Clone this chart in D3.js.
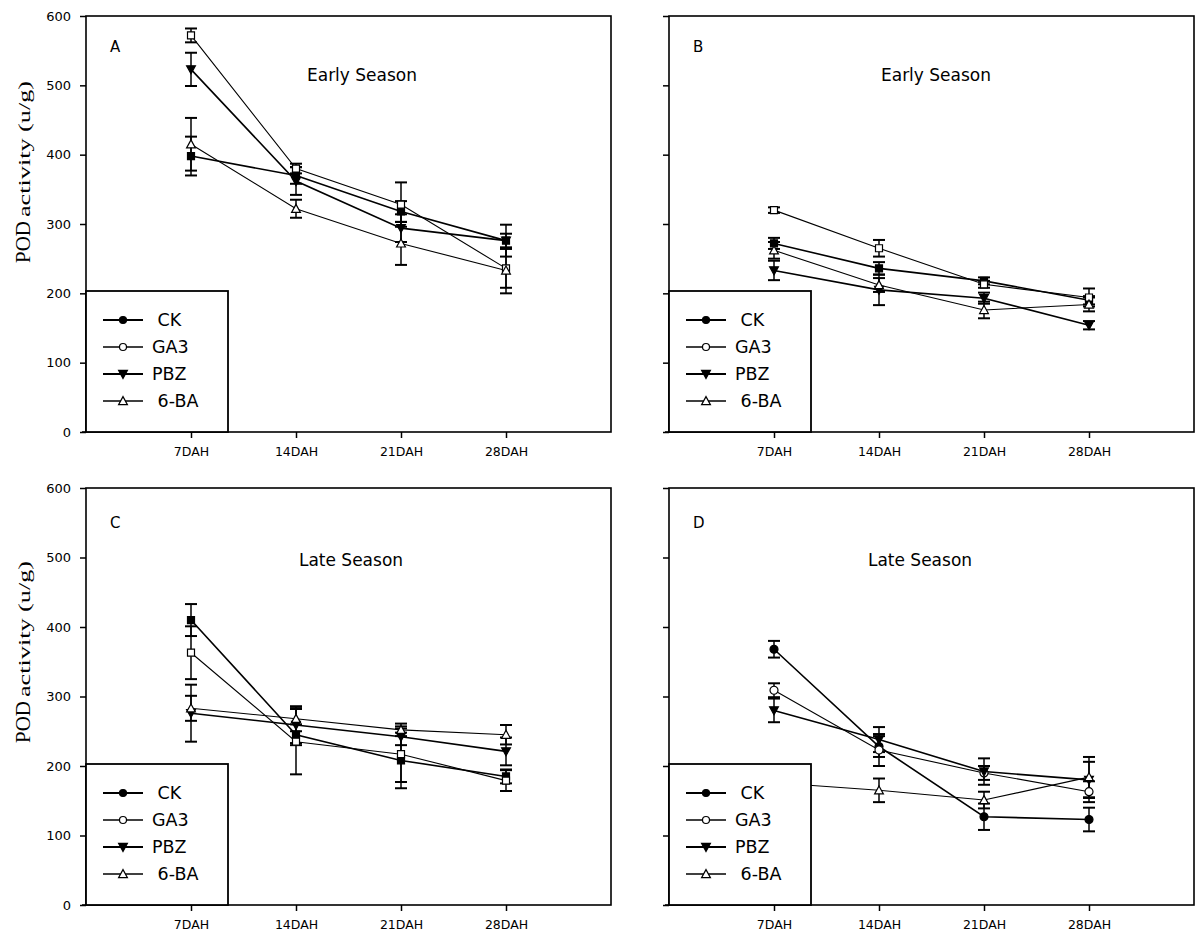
<!DOCTYPE html>
<html>
<head>
<meta charset="utf-8">
<script src="https://cdn.jsdelivr.net/npm/d3@7"></script>
<style>
  html, body { margin: 0; padding: 0; background: #fff; }
  svg { display: block; }
  text { font-family: "DejaVu Sans", sans-serif; fill: #000; white-space: pre; }
</style>
</head>
<body>
<script>
// ---------------- DATA ----------------
const days = [7, 14, 21, 28];
const dayLabels = ["7DAH", "14DAH", "21DAH", "28DAH"];
const seriesNames = ["CK", "GA3", "PBZ", "6-BA"];
const legendLabels = [" CK", "GA3", "PBZ", " 6-BA"];
const yTickValues = [0, 100, 200, 300, 400, 500, 600];
const panelLetters = ["A", "B", "C", "D"];
const panelTitles = ["Early Season", "Early Season", "Late Season", "Late Season"];
const yAxisTitleMain = "POD";
const yAxisTitleRest = "activity (u/g)";

// Panel A
const A_CK = [398, 370, 318, 276];   const A_CK_err = [28, 12, 15, 10];
const A_GA3 = [572, 380, 328, 236];  const A_GA3_err = [10, 7, 32, 28];
const A_PBZ = [523, 362, 294, 276];  const A_PBZ_err = [24, 20, 20, 23];
const A_BA = [415, 322, 272, 233];   const A_BA_err = [38, 13, 31, 33];
// Panel B
const B_CK = [272, 236, 218, 190];   const B_CK_err = [8, 9, 5, 6];
const B_GA3 = [320, 265, 213, 194];  const B_GA3_err = [4, 12, 5, 13];
const B_PBZ = [233, 205, 193, 154];  const B_PBZ_err = [14, 22, 8, 6];
const B_BA = [262, 212, 176, 184];   const B_BA_err = [12, 10, 12, 10];
// Panel C
const C_CK = [410, 245, 208, 185];   const C_CK_err = [23, 15, 40, 10];
const C_GA3 = [363, 235, 217, 179];  const C_GA3_err = [38, 47, 40, 15];
const C_PBZ = [276, 259, 242, 221];  const C_PBZ_err = [41, 26, 12, 20];
const C_BA = [283, 268, 252, 245];   const C_BA_err = [18, 18, 9, 14];
// Panel D
const D_CK = [368, 228, 127, 123];   const D_CK_err = [12, 15, 19, 17];
const D_GA3 = [309, 223, 190, 163];  const D_GA3_err = [10, 23, 10, 15];
const D_PBZ = [280, 238, 192, 180];  const D_PBZ_err = [17, 18, 19, 26];
const D_BA = [176, 165, 151, 184];   const D_BA_err = [10, 17, 12, 29];

const panelValues = [
  [A_CK, A_GA3, A_PBZ, A_BA],
  [B_CK, B_GA3, B_PBZ, B_BA],
  [C_CK, C_GA3, C_PBZ, C_BA],
  [D_CK, D_GA3, D_PBZ, D_BA]
];
const panelErrors = [
  [A_CK_err, A_GA3_err, A_PBZ_err, A_BA_err],
  [B_CK_err, B_GA3_err, B_PBZ_err, B_BA_err],
  [C_CK_err, C_GA3_err, C_PBZ_err, C_BA_err],
  [D_CK_err, D_GA3_err, D_PBZ_err, D_BA_err]
];

// ---------------- LAYOUT ----------------
const W = 1200, H = 941;
const panelW = 525;
const layout = [
  { left: 86,  top: 16,  bottom: 432, showY: true,  squares: true,  letterDy: 36, titleDy: 65, titleCx: 276, yTitleEnd: 263 },
  { left: 669, top: 16,  bottom: 432, showY: false, squares: true,  letterDy: 36, titleDy: 65, titleCx: 267 },
  { left: 86,  top: 488, bottom: 905, showY: true,  squares: true,  letterDy: 40, titleDy: 78, titleCx: 265, yTitleEnd: 743 },
  { left: 669, top: 488, bottom: 905, showY: false, squares: false, letterDy: 40, titleDy: 78, titleCx: 251 }
];
const seriesStyle = [
  { filled: true,  shape: "circle", lw: 1.6 },
  { filled: false, shape: "circle", lw: 1.1 },
  { filled: true,  shape: "tdown",  lw: 1.6 },
  { filled: false, shape: "tup",    lw: 1.1 }
];

const svg = d3.select("body").append("svg").attr("width", W).attr("height", H);
svg.append("rect").attr("width", W).attr("height", H).attr("fill", "#fff");

function markerPath(shape, size) {
  if (shape === "square") return d3.symbol(d3.symbolSquare, size * size)();
  if (shape === "circle") return d3.symbol(d3.symbolCircle, Math.PI * (size / 2) * (size / 2))();
  const s = size;
  if (shape === "tup") return `M0,${-s * 0.55}L${s * 0.55},${s * 0.45}L${-s * 0.55},${s * 0.45}Z`;
  return `M0,${s * 0.55}L${s * 0.55},${-s * 0.45}L${-s * 0.55},${-s * 0.45}Z`;
}

function drawMarker(g, shape, filled, cx, cy, size) {
  g.append("path")
    .attr("d", markerPath(shape, size))
    .attr("transform", `translate(${cx},${cy})`)
    .attr("fill", filled ? "#000" : "#fff")
    .attr("stroke", "#000")
    .attr("stroke-width", 1.2);
}

layout.forEach((p, pi) => {
  const g = svg.append("g");
  const x = d3.scaleLinear().domain([0, 35]).range([p.left, p.left + panelW]);
  const y = d3.scaleLinear().domain([0, 600]).range([p.bottom, p.top]);

  // y axis
  const yAxis = d3.axisLeft(y).tickValues(yTickValues).tickSize(6).tickPadding(9)
    .tickFormat(p.showY ? d3.format("d") : () => "");
  const yg = g.append("g").attr("transform", `translate(${p.left},0)`).call(yAxis);
  yg.select(".domain").remove();
  yg.selectAll(".tick line").attr("stroke", "#000").attr("stroke-width", 1.5);
  yg.selectAll(".tick text").style("font-family", "DejaVu Sans, sans-serif").style("font-size", "13px");

  // x axis
  const xAxis = d3.axisBottom(x).tickValues(days).tickSize(6).tickPadding(9)
    .tickFormat((d, i) => dayLabels[i]);
  const xg = g.append("g").attr("transform", `translate(0,${p.bottom})`).call(xAxis);
  xg.select(".domain").remove();
  xg.selectAll(".tick line").attr("stroke", "#000").attr("stroke-width", 1.5);
  xg.selectAll(".tick text").style("font-family", "DejaVu Sans, sans-serif").style("font-size", "12.5px");

  // frame
  g.append("rect")
    .attr("x", p.left).attr("y", p.top)
    .attr("width", panelW).attr("height", p.bottom - p.top)
    .attr("fill", "none").attr("stroke", "#000").attr("stroke-width", 1.6);
  g.append("line").attr("x1", p.left - 4).attr("x2", p.left).attr("y1", p.bottom).attr("y2", p.bottom)
    .attr("stroke", "#000").attr("stroke-width", 1.6);

  const vals = panelValues[pi];
  const errs = panelErrors[pi];

  // lines
  const line = d3.line().x((d, i) => x(days[i])).y(d => y(d));
  vals.forEach((v, si) => {
    g.append("path").datum(v).attr("d", line)
      .attr("fill", "none").attr("stroke", "#000").attr("stroke-width", seriesStyle[si].lw);
  });

  // error bars
  const cap = 6;
  vals.forEach((v, si) => {
    v.forEach((val, i) => {
      const e = errs[si][i];
      const cx = x(days[i]);
      g.append("line").attr("x1", cx).attr("x2", cx).attr("y1", y(val - e)).attr("y2", y(val + e))
        .attr("stroke", "#000").attr("stroke-width", 1.5);
      [val - e, val + e].forEach(t => {
        g.append("line").attr("x1", cx - cap).attr("x2", cx + cap).attr("y1", y(t)).attr("y2", y(t))
          .attr("stroke", "#000").attr("stroke-width", 2);
      });
    });
  });

  // markers
  vals.forEach((v, si) => {
    const st = seriesStyle[si];
    let shape = st.shape;
    if (shape === "circle" && p.squares) shape = "square";
    v.forEach((val, i) => {
      drawMarker(g, shape, st.filled, x(days[i]), y(val), shape === "square" ? 7 : 8);
    });
  });

  // panel letter & title
  g.append("text").attr("x", p.left + 24).attr("y", p.top + p.letterDy)
    .style("font-size", "15px").text(panelLetters[pi]);
  g.append("text").attr("x", p.left + p.titleCx).attr("y", p.top + p.titleDy)
    .attr("text-anchor", "middle").style("font-size", "17px").text(panelTitles[pi]);

  // legend
  const lgW = 142, lgH = 141;
  const lg = g.append("g").attr("transform", `translate(${p.left},${p.bottom - lgH})`);
  lg.append("rect").attr("width", lgW).attr("height", lgH)
    .attr("fill", "#fff").attr("stroke", "#000").attr("stroke-width", 1.8);
  seriesNames.forEach((nm, si) => {
    const st = seriesStyle[si];
    const ly = 29 + si * 27;
    lg.append("line").attr("x1", 17).attr("x2", 57).attr("y1", ly).attr("y2", ly)
      .attr("stroke", "#000").attr("stroke-width", st.lw + 0.4);
    drawMarker(lg, st.shape, st.filled, 37, ly, st.shape === "circle" ? 7 : 8);
    lg.append("text").attr("x", 66).attr("y", ly + 6)
      .style("font-size", "17.5px").text(legendLabels[si]);
  });

  // y axis title (two parts, rotated)
  if (p.showY) {
    const yt = g.append("g").attr("transform", `translate(30,${p.yTitleEnd}) rotate(-90)`);
    yt.append("text").attr("x", 0).attr("y", 0)
      .style("font-family", "Liberation Serif, DejaVu Serif, serif").style("font-size", "20px")
      .attr("textLength", 42).attr("lengthAdjust", "spacingAndGlyphs")
      .text(yAxisTitleMain);
    yt.append("text").attr("x", 46).attr("y", 0)
      .style("font-family", "Liberation Serif, DejaVu Serif, serif").style("font-size", "16px")
      .attr("textLength", 136).attr("lengthAdjust", "spacingAndGlyphs")
      .text(yAxisTitleRest);
  }
});
</script>
</body>
</html>
